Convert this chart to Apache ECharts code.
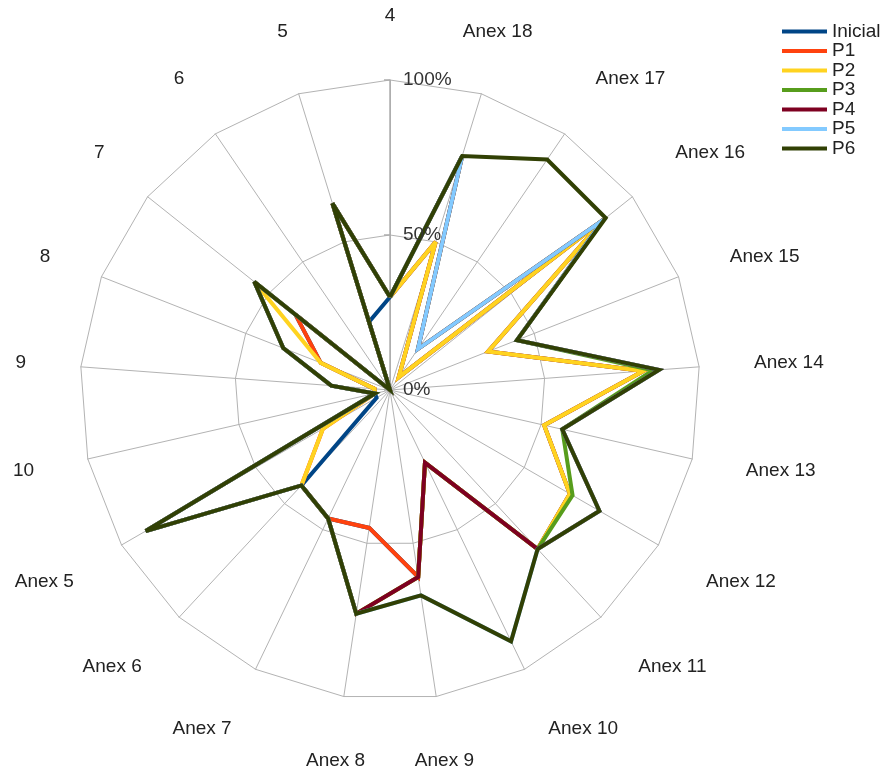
<!DOCTYPE html>
<html>
<head>
<meta charset="utf-8">
<script src="https://cdn.jsdelivr.net/npm/echarts@6/dist/echarts.min.js"></script>
<style>
  html, body { margin: 0; padding: 0; background: #ffffff; }
  #chart { width: 880px; height: 769px; }
</style>
</head>
<body>
<div id="chart"></div>
<script>
// Axes of the net chart, in the order they are laid out around the circle
const categories = ['4', '5', '6', '7', '8', '9', '10',
  'Anex 5', 'Anex 6', 'Anex 7', 'Anex 8', 'Anex 9', 'Anex 10', 'Anex 11',
  'Anex 12', 'Anex 13', 'Anex 14', 'Anex 15', 'Anex 16', 'Anex 17', 'Anex 18'];

const seriesNames = ['Inicial', 'P1', 'P2', 'P3', 'P4', 'P5', 'P6'];

// Completion (%) per axis for each phase
const inicial = [30, 23, 0, 39, 24, 5, 5, 5, 42, 46, 45, 61, 26, 70, 67, 51, 82, 34, 88, 5, 50];
const p1 = [30, 63, 0, 39, 24, 5, 5, 25, 42, 46, 45, 61, 26, 70, 67, 51, 82, 34, 88, 5, 50];
const p2 = [30, 63, 0, 56, 24, 5, 5, 25, 42, 46, 73, 61, 26, 70, 67, 51, 82, 34, 88, 5, 50];
const p3 = [30, 63, 0, 56, 37, 19, 5, 91, 42, 46, 73, 61, 26, 70, 68, 57, 85, 44, 88, 16, 79];
const p4 = [30, 63, 0, 56, 37, 19, 5, 91, 42, 46, 73, 61, 26, 70, 78, 57, 87, 44, 88, 16, 79];
const p5 = [30, 63, 0, 56, 37, 19, 5, 91, 42, 46, 73, 67, 90, 70, 78, 57, 87, 44, 88, 16, 79];
const p6 = [30, 63, 0, 56, 37, 19, 5, 91, 42, 46, 73, 67, 90, 70, 78, 57, 87, 44, 89, 90, 79];

// Value-axis tick labels
const tickLabels = ['0%', '50%', '100%'];
const tickValues = [0, 50, 100];

const seriesValues = [inicial, p1, p2, p3, p4, p5, p6];
const colors = ['#004586', '#ff420e', '#ffd320', '#579d1c', '#7e0021', '#83caff', '#314004'];

const CX = 390, CY = 390, R = 310, NAME_R = 365;
const FONT = '19px "Liberation Sans", Arial, sans-serif';
const TEXT_COLOR = '#222222';
const GRID_COLOR = '#b3b3b3';

// Axis names: anchored just outside the outer ring, aligned by compass octant
const step = 2 * Math.PI / categories.length;
const octantAlign = [
  ['center', 'bottom'], ['left', 'bottom'], ['left', 'middle'], ['left', 'top'],
  ['center', 'top'], ['right', 'top'], ['right', 'middle'], ['right', 'bottom']
];
const nameTexts = categories.map(function (name, j) {
  const a = Math.PI / 2 + j * step;
  let compass = 90 - a * 180 / Math.PI;
  compass = ((compass % 360) + 360) % 360;
  const al = octantAlign[Math.round(compass / 45) % 8];
  return {
    type: 'text',
    x: CX + NAME_R * Math.cos(a),
    y: CY - NAME_R * Math.sin(a),
    silent: true,
    style: {
      text: name, font: FONT, fill: TEXT_COLOR,
      align: al[0], verticalAlign: al[1],
      textAlign: al[0], textVerticalAlign: al[1]
    }
  };
});

// Value axis along the first category: line, small ticks and percent labels
const valueAxisGraphics = [{
  type: 'line', silent: true, z: 1,
  shape: { x1: CX, y1: CY, x2: CX, y2: CY - R },
  style: { stroke: '#acacac', lineWidth: 1.5 }
}];
tickValues.forEach(function (v, i) {
  const y = CY - R * v / 100;
  valueAxisGraphics.push({
    type: 'line', silent: true, z: 1,
    shape: { x1: CX - 6, y1: y, x2: CX, y2: y },
    style: { stroke: '#acacac', lineWidth: 1.5 }
  });
  valueAxisGraphics.push({
    type: 'text', silent: true, z: 50,
    x: CX + 13, y: y,
    style: {
      text: tickLabels[i], font: FONT, fill: '#333333',
      align: 'left', verticalAlign: 'middle',
      textAlign: 'left', textVerticalAlign: 'middle'
    }
  });
});

const chart = echarts.init(document.getElementById('chart'), null, { renderer: 'canvas' });

chart.setOption({
  backgroundColor: '#ffffff',
  animation: false,
  color: colors,
  legend: {
    data: seriesNames,
    orient: 'vertical',
    left: 777,
    top: 17,
    icon: 'rect',
    itemWidth: 45,
    itemHeight: 4,
    itemGap: 0.5,
    textStyle: {
      fontFamily: '"Liberation Sans", Arial, sans-serif',
      fontSize: 19,
      lineHeight: 19,
      color: TEXT_COLOR
    }
  },
  radar: {
    center: [CX, CY],
    radius: R,
    startAngle: 90,
    splitNumber: 2,
    shape: 'polygon',
    indicator: categories.map(function (name) { return { name: name, min: 0, max: 100 }; }),
    axisName: { show: false },
    axisLine: { lineStyle: { color: GRID_COLOR, width: 1 } },
    splitLine: { lineStyle: { color: GRID_COLOR, width: 1 } },
    splitArea: { show: false },
    axisTick: { show: false },
    axisLabel: { show: false }
  },
  graphic: { elements: nameTexts.concat(valueAxisGraphics) },
  series: seriesNames.map(function (name, i) {
    return {
      type: 'radar',
      name: name,
      z: 2 + i,
      symbol: 'none',
      lineStyle: { color: colors[i], width: 4, join: 'miter', miterLimit: 4 },
      itemStyle: { color: colors[i] },
      emphasis: { disabled: true },
      data: [{ name: name, value: seriesValues[i] }]
    };
  })
});
</script>
</body>
</html>
